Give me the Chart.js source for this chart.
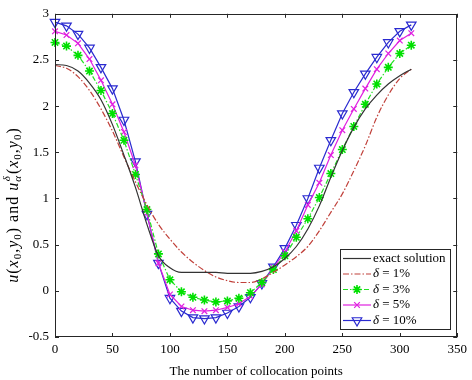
<!DOCTYPE html>
<html lang="en">
<head>
<meta charset="UTF-8">
<title>Collocation points</title>
<script src="https://cdn.jsdelivr.net/npm/chart.js"></script>
<style>
  html, body { margin: 0; padding: 0; background: #fff; }
  canvas { display: block; }
</style>
</head>
<body>
<canvas id="chart" width="472" height="380"></canvas>
<script>
// Collocation point index (x axis)
const points = [0, 10, 20, 30, 40, 50, 60, 70, 80, 90, 100, 110, 120, 130, 140, 150,
  160, 170, 180, 190, 200, 210, 220, 230, 240, 250, 260, 270, 280, 290, 300, 310];

// Values
const exactSolution = [2.45, 2.44, 2.38, 2.25, 2.07, 1.80, 1.47, 1.12, 0.72, 0.38, 0.25, 0.20,
  0.20, 0.20, 0.20, 0.19, 0.19, 0.19, 0.21, 0.26, 0.35, 0.48, 0.67, 0.92, 1.23, 1.52,
  1.77, 1.97, 2.12, 2.24, 2.33, 2.40];
const delta1 = [2.44, 2.41, 2.32, 2.17, 1.97, 1.73, 1.45, 1.18, 0.93, 0.72, 0.56, 0.42,
  0.31, 0.22, 0.15, 0.11, 0.09, 0.09, 0.13, 0.20, 0.28, 0.37, 0.48, 0.65, 0.85, 1.05,
  1.30, 1.57, 1.88, 2.12, 2.30, 2.40];
const delta3 = [2.69, 2.65, 2.55, 2.38, 2.17, 1.92, 1.63, 1.26, 0.88, 0.40, 0.12, -0.01,
  -0.07, -0.10, -0.12, -0.11, -0.08, -0.02, 0.09, 0.23, 0.38, 0.58, 0.78, 1.01, 1.27, 1.53,
  1.78, 2.02, 2.24, 2.42, 2.57, 2.66];
const delta5 = [2.81, 2.77, 2.68, 2.51, 2.28, 2.02, 1.72, 1.36, 0.84, 0.30, -0.04, -0.17,
  -0.21, -0.22, -0.21, -0.18, -0.14, -0.06, 0.07, 0.25, 0.42, 0.65, 0.93, 1.17, 1.47, 1.74,
  1.97, 2.19, 2.40, 2.57, 2.71, 2.79];
const delta10 = [2.91, 2.87, 2.78, 2.63, 2.42, 2.19, 1.85, 1.40, 0.83, 0.30, -0.08, -0.22,
  -0.29, -0.30, -0.29, -0.24, -0.17, -0.07, 0.08, 0.26, 0.46, 0.71, 1.00, 1.33, 1.63, 1.92,
  2.15, 2.35, 2.53, 2.69, 2.81, 2.88];

const legendLabels = ["exact solution", "= 1%", "= 3%", "= 5%", "= 10%"];
const xTitle = "The number of collocation points";

const FONT = "'Liberation Serif', 'DejaVu Serif', serif";
const AXIS = "#262626";

function toXY(values) {
  return values.map((v, i) => ({ x: points[i], y: v }));
}

const datasets = [
  { label: legendLabels[0], data: toXY(exactSolution), borderColor: "#333333",
    borderWidth: 1.2, pointRadius: 0, cubicInterpolationMode: "monotone" },
  { label: legendLabels[1], data: toXY(delta1), borderColor: "#c0403a",
    borderWidth: 1.2, borderDash: [6, 2, 1.5, 2], pointRadius: 0, cubicInterpolationMode: "monotone" },
  { label: legendLabels[2], data: toXY(delta3), borderColor: "#22e022",
    borderWidth: 1.2, borderDash: [5, 2, 1.5, 2], pointStyle: "star", pointRadius: 4.5,
    pointBorderWidth: 1.6, pointBorderColor: "#00e000", pointBackgroundColor: "#00e000" },
  { label: legendLabels[3], data: toXY(delta5), borderColor: "#e020e0",
    borderWidth: 1.2, pointStyle: "crossRot", pointRadius: 4,
    pointBorderWidth: 1.2, pointBorderColor: "#e020e0" },
  { label: legendLabels[4], data: toXY(delta10), borderColor: "#2a2ad0",
    borderWidth: 1.2, pointStyle: "triangle", pointRotation: 180, pointRadius: 5.5,
    pointBorderWidth: 1.2, pointBorderColor: "#2a2ad0", pointBackgroundColor: "rgba(0,0,0,0)" }
];
datasets.forEach(d => { d.fill = false; d.clip = false; d.tension = 0; });

function drawMarker(ctx, style, x, y, r, color, lw) {
  ctx.save();
  ctx.strokeStyle = color;
  ctx.lineWidth = lw;
  ctx.setLineDash([]);
  ctx.beginPath();
  if (style === "triangle") {
    // pointing down
    for (let k = 0; k < 3; k++) {
      const a = Math.PI + k * 2 * Math.PI / 3;
      const px = x + Math.sin(a) * r, py = y - Math.cos(a) * r;
      if (k === 0) ctx.moveTo(px, py); else ctx.lineTo(px, py);
    }
    ctx.closePath();
  } else if (style === "star") {
    for (let k = 0; k < 4; k++) {
      const a = k * Math.PI / 4;
      ctx.moveTo(x + Math.cos(a) * r, y + Math.sin(a) * r);
      ctx.lineTo(x - Math.cos(a) * r, y - Math.sin(a) * r);
    }
  } else if (style === "crossRot") {
    const d = r * Math.SQRT1_2;
    ctx.moveTo(x - d, y - d); ctx.lineTo(x + d, y + d);
    ctx.moveTo(x - d, y + d); ctx.lineTo(x + d, y - d);
  }
  ctx.stroke();
  ctx.restore();
}

// Text made of runs: plain, italic, subscript, stacked sup/sub
const MAIN = 16, SMALL = 11, GAP = 1;
function runFont(r) {
  return (r.i ? "italic " : "") + (r.sub ? SMALL : MAIN) + "px " + FONT;
}
function runWidth(ctx, r) {
  if (r.stack) {
    ctx.font = "italic " + SMALL + "px " + FONT;
    return Math.max(ctx.measureText(r.stack[0]).width, ctx.measureText(r.stack[1]).width) + 1 + GAP;
  }
  ctx.font = runFont(r);
  return ctx.measureText(r.t).width + GAP * r.t.length;
}
function richWidth(ctx, runs) {
  return runs.reduce((s, r) => s + runWidth(ctx, r), 0);
}
function drawRich(ctx, runs, x, y) {
  ctx.textBaseline = "alphabetic";
  ctx.textAlign = "left";
  runs.forEach(r => {
    const w = runWidth(ctx, r);
    if (r.stack) {
      ctx.font = "italic " + SMALL + "px " + FONT;
      ctx.fillText(r.stack[0], x + 0.5, y - 8);
      ctx.fillText(r.stack[1], x, y + 3);
    } else {
      ctx.font = runFont(r);
      let cx = x;
      for (const ch of r.t) {
        ctx.fillText(ch, cx, y + (r.sub ? 3 : 0));
        cx += ctx.measureText(ch).width + GAP;
      }
    }
    x += w;
  });
}

const yTitleRuns = [
  { t: "u", i: 1 }, { t: "(" }, { t: "x", i: 1 }, { t: "0", sub: 1 }, { t: "," },
  { t: "y", i: 1 }, { t: "0", sub: 1 }, { t: ") and " },
  { t: "u", i: 1 }, { stack: ["\u03b4", "\u03b1"] }, { t: "(" }, { t: "x", i: 1 },
  { t: "0", sub: 1 }, { t: "," }, { t: "y", i: 1 }, { t: "0", sub: 1 }, { t: ")" }
];

const framePlugin = {
  id: "frame",
  afterDatasetsDraw(chart) {
    const { ctx, chartArea: a, scales } = chart;
    ctx.save();
    ctx.strokeStyle = AXIS;
    ctx.lineWidth = 1;
    ctx.setLineDash([]);
    ctx.strokeRect(Math.round(a.left) + 0.5, Math.round(a.top) + 0.5,
      Math.round(a.right - a.left) - 1, Math.round(a.bottom - a.top) - 1);
    // inward ticks
    const tl = 4;
    ctx.beginPath();
    scales.x.ticks.forEach(t => {
      const px = Math.round(scales.x.getPixelForValue(t.value)) + 0.5;
      ctx.moveTo(px, a.bottom); ctx.lineTo(px, a.bottom - tl);
      ctx.moveTo(px, a.top); ctx.lineTo(px, a.top + tl);
    });
    scales.y.ticks.forEach(t => {
      const py = Math.round(scales.y.getPixelForValue(t.value)) + 0.5;
      ctx.moveTo(a.left, py); ctx.lineTo(a.left + tl, py);
      ctx.moveTo(a.right, py); ctx.lineTo(a.right - tl, py);
    });
    ctx.stroke();

    // legend box
    const bx = 340.5, by = 249.5, bw = 110, bh = 80;
    ctx.fillStyle = "#fff";
    ctx.fillRect(bx, by, bw, bh);
    ctx.strokeStyle = AXIS;
    ctx.strokeRect(bx, by, bw, bh);
    const rowY = [258.5, 274, 289.5, 305, 320.5];
    chart.data.datasets.forEach((d, i) => {
      const y = rowY[i];
      ctx.save();
      ctx.strokeStyle = d.borderColor;
      ctx.lineWidth = d.borderWidth;
      ctx.setLineDash(d.borderDash || []);
      ctx.beginPath();
      ctx.moveTo(343, y); ctx.lineTo(371, y);
      ctx.stroke();
      ctx.restore();
      if (d.pointRadius > 0) {
        drawMarker(ctx, d.pointStyle, 357, y, d.pointRadius, d.pointBorderColor, d.pointBorderWidth);
      }
      ctx.fillStyle = "#000";
      ctx.textBaseline = "middle";
      ctx.textAlign = "left";
      if (i === 0) {
        ctx.font = "13px " + FONT;
        ctx.fillText(d.label, 373, y);
      } else {
        ctx.font = "italic 13px " + FONT;
        ctx.fillText("\u03b4", 373, y);
        const w = ctx.measureText("\u03b4 ").width;
        ctx.font = "13px " + FONT;
        ctx.fillText(d.label, 373 + w, y);
      }
    });
    ctx.restore();
  },
  afterDraw(chart) {
    const { ctx } = chart;
    ctx.save();
    ctx.fillStyle = "#000";
    const w = richWidth(ctx, yTitleRuns);
    ctx.translate(18, 205);
    ctx.rotate(-Math.PI / 2);
    drawRich(ctx, yTitleRuns, -w / 2, 0);
    ctx.restore();
  }
};

new Chart(document.getElementById("chart").getContext("2d"), {
  type: "line",
  data: { datasets },
  options: {
    responsive: false,
    animation: false,
    devicePixelRatio: 1,
    layout: { padding: { left: 0, right: 14, top: 7, bottom: 0 } },
    plugins: { legend: { display: false }, tooltip: { enabled: false } },
    scales: {
      x: {
        type: "linear", min: 0, max: 350,
        afterFit(scale) { scale.height = 43; },
        grid: { display: false, drawTicks: false },
        border: { display: false },
        ticks: { stepSize: 50, padding: 5, color: "#000", font: { family: FONT, size: 13 },
          maxRotation: 0, autoSkip: false },
        title: { display: true, text: xTitle, color: "#000", font: { family: FONT, size: 13 },
          padding: { top: 0, bottom: 1 } }
      },
      y: {
        type: "linear", min: -0.5, max: 3,
        afterFit(scale) { scale.width = 55; },
        grid: { display: false, drawTicks: false },
        border: { display: false },
        ticks: { stepSize: 0.5, padding: 6, color: "#000", font: { family: FONT, size: 13 },
          callback: v => String(v), autoSkip: false }
      }
    }
  },
  plugins: [framePlugin]
});
</script>
</body>
</html>
